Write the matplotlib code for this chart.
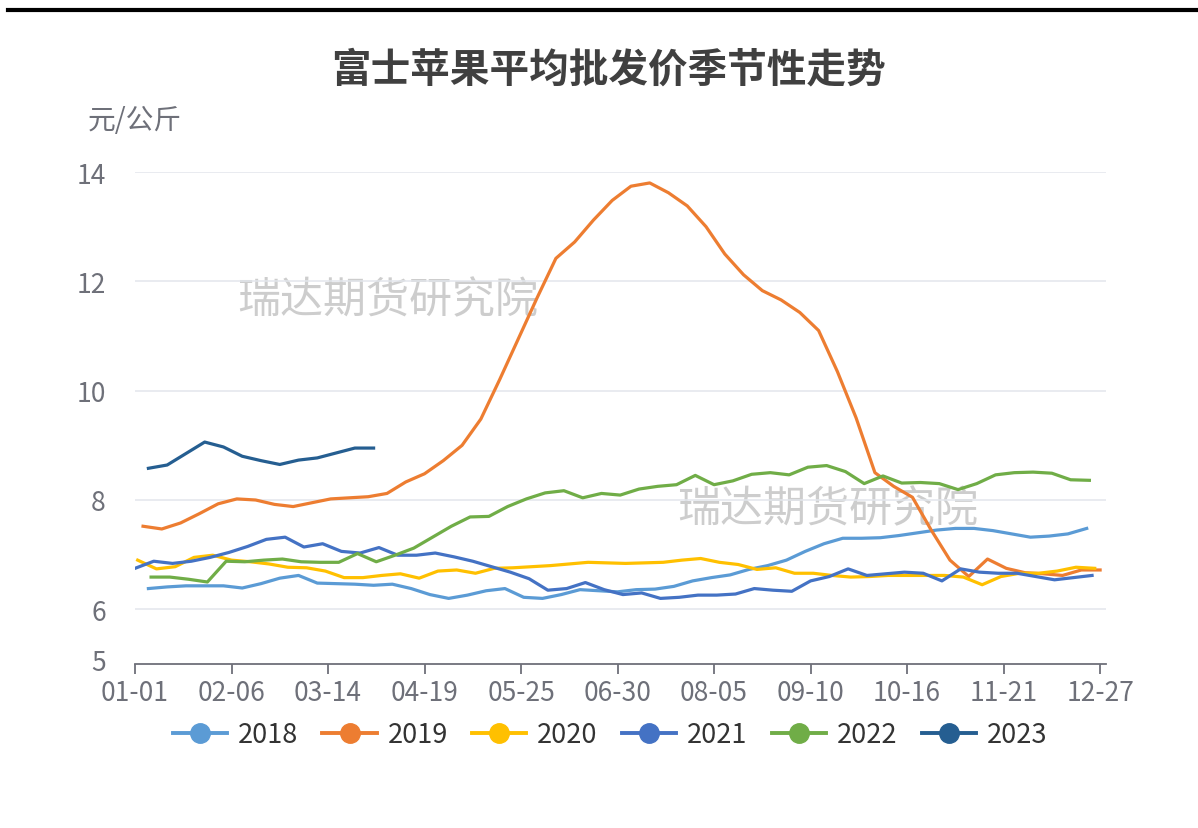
import numpy as np
import matplotlib
matplotlib.use('Agg')
import matplotlib.pyplot as plt
import matplotlib.transforms as mtransforms
from matplotlib.lines import Line2D

plt.rcParams['font.family'] = ['Noto Sans CJK SC', 'DejaVu Sans']

# weekly prices (yuan/kg); each series starts on the given day of year (0 = 01-01)
years = ['2018', '2019', '2020', '2021', '2022', '2023']
start_days = [5, 3, 1, 0, 6, 5]
colors = ['#5b9bd5', '#ed7d31', '#ffc000', '#4472c4', '#70ad47', '#255e91']

p2018 = [6.38, 6.41, 6.43, 6.43, 6.43, 6.39, 6.47, 6.57, 6.62, 6.48, 6.47, 6.46, 6.44,
         6.46, 6.38, 6.27, 6.20, 6.26, 6.34, 6.38, 6.22, 6.20, 6.27, 6.36, 6.34, 6.32,
         6.36, 6.37, 6.42, 6.52, 6.58, 6.63, 6.73, 6.80, 6.90, 7.06, 7.20, 7.30, 7.30,
         7.31, 7.35, 7.40, 7.45, 7.48, 7.48, 7.44, 7.38, 7.32, 7.34, 7.38, 7.48]
p2019 = [7.52, 7.47, 7.58, 7.75, 7.93, 8.02, 8.00, 7.92, 7.88, 7.95, 8.02, 8.04, 8.06,
         8.12, 8.33, 8.48, 8.72, 9.00, 9.48, 10.20, 10.95, 11.70, 12.42, 12.72, 13.12,
         13.48, 13.74, 13.80, 13.62, 13.38, 13.00, 12.50, 12.12, 11.83, 11.66, 11.43,
         11.10, 10.35, 9.50, 8.50, 8.25, 8.05, 7.45, 6.90, 6.60, 6.92, 6.75, 6.67, 6.65,
         6.62, 6.72, 6.72]
p2020 = [6.90, 6.74, 6.78, 6.95, 6.99, 6.90, 6.87, 6.83, 6.77, 6.76, 6.70, 6.58, 6.58,
         6.62, 6.65, 6.57, 6.70, 6.72, 6.66, 6.75, 6.76, 6.78, 6.80, 6.83, 6.86, 6.85,
         6.84, 6.85, 6.86, 6.90, 6.93, 6.86, 6.82, 6.73, 6.76, 6.66, 6.66, 6.62, 6.59,
         6.60, 6.62, 6.62, 6.62, 6.62, 6.59, 6.45, 6.60, 6.66, 6.66, 6.70, 6.77, 6.75]
p2021 = [6.75, 6.88, 6.84, 6.88, 6.95, 7.04, 7.15, 7.28, 7.32, 7.14, 7.20, 7.06, 7.03,
         7.13, 6.99, 6.99, 7.03, 6.96, 6.88, 6.78, 6.68, 6.56, 6.35, 6.38, 6.49, 6.36,
         6.27, 6.30, 6.20, 6.22, 6.26, 6.26, 6.28, 6.38, 6.35, 6.33, 6.52, 6.60, 6.74,
         6.62, 6.65, 6.68, 6.66, 6.52, 6.74, 6.68, 6.66, 6.66, 6.60, 6.54, 6.58, 6.62]
p2022 = [6.59, 6.59, 6.55, 6.50, 6.88, 6.87, 6.90, 6.92, 6.87, 6.86, 6.86, 7.02, 6.87,
         6.99, 7.12, 7.32, 7.52, 7.69, 7.70, 7.88, 8.02, 8.13, 8.17, 8.04, 8.12, 8.09,
         8.20, 8.25, 8.28, 8.45, 8.28, 8.35, 8.47, 8.50, 8.46, 8.60, 8.63, 8.52, 8.30,
         8.44, 8.31, 8.32, 8.30, 8.19, 8.30, 8.46, 8.50, 8.51, 8.49, 8.37, 8.36]
p2023 = [8.58, 8.64, 8.85, 9.06, 8.97, 8.80, 8.72, 8.65, 8.73, 8.77, 8.86, 8.95, 8.95]
prices = [p2018, p2019, p2020, p2021, p2022, p2023]

tick_days = list(range(0, 361, 36))
tick_labels = ['01-01', '02-06', '03-14', '04-19', '05-25', '06-30',
               '08-05', '09-10', '10-16', '11-21', '12-27']
y_ticks = [5, 6, 8, 10, 12, 14]

fig = plt.figure(figsize=(11.98, 8.29), dpi=100)
ax = fig.add_axes([135 / 1198, 1 - 665 / 829, (1106 - 135) / 1198, (665 - 173) / 829])

for yr, d0, vals, c in zip(years, start_days, prices, colors):
    x = d0 + 7 * np.arange(len(vals))
    ax.plot(x, vals, color=c, lw=2.3, solid_joinstyle='round', zorder=3)

ax.set_xlim(0, 362.2)
ax.set_ylim(5, 14)
ax.set_xticks(tick_days)
ax.set_xticklabels(tick_labels)
ax.set_yticks(y_ticks)
ax.set_yticklabels([str(v) for v in y_ticks])
for v in y_ticks[1:]:
    ax.axhline(v, color='#e3e6ec', lw=1.1, zorder=1)

for s in ['top', 'right', 'left']:
    ax.spines[s].set_visible(False)
ax.spines['bottom'].set_color('#6e7079')
ax.spines['bottom'].set_linewidth(1.3)
ax.tick_params(axis='x', colors='#6e7079', length=7, width=1.3, labelsize=19,
               labelcolor='#6e7079', pad=4)
ax.tick_params(axis='y', length=0, labelsize=19, labelcolor='#6e7079', pad=21)
# lift the lowest y label a few pixels so it clears the date labels
lab5 = ax.get_yticklabels()[0]
lab5.set_transform(lab5.get_transform() +
                   mtransforms.ScaledTranslation(0, 4 / 100, fig.dpi_scale_trans))

# watermarks
ax.text(0.105, 0.74, '瑞达期货研究院', transform=ax.transAxes, fontsize=31,
        fontweight='light', color='#cdcdcd', ha='left', va='center', zorder=0)
ax.text(0.558, 0.315, '瑞达期货研究院', transform=ax.transAxes, fontsize=31,
        fontweight='light', color='#cdcdcd', ha='left', va='center', zorder=0)

fig.text(609 / 1198, 1 - 70 / 829, '富士苹果平均批发价季节性走势', ha='center', va='center',
         fontsize=28.5, fontweight='bold', color='#404040')
fig.text(88 / 1198, 1 - 121 / 829, '元/公斤', ha='left', va='center',
         fontsize=20, color='#6e7079')

# black rule at the top
fig.add_artist(Line2D([8 / 1198, 1], [1 - 11 / 829, 1 - 11 / 829], color='black', lw=3))

handles = [Line2D([], [], color=c, lw=2.8, marker='o', markersize=14) for c in colors]
leg = fig.legend(handles, years, loc='center', bbox_to_anchor=(610 / 1198, 1 - 736 / 829),
                 ncol=6, frameon=False, fontsize=19.5, handlelength=2.0, handletextpad=0.4,
                 columnspacing=0.9)
for t in leg.get_texts():
    t.set_color('#333333')

fig.savefig('out.png', dpi=100, facecolor='white')
